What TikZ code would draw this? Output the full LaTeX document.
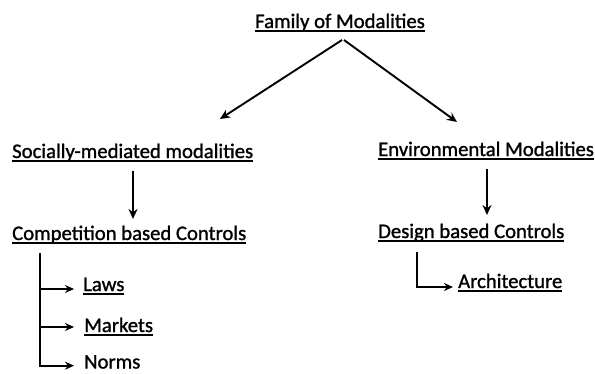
\documentclass[tikz,border=0pt]{standalone}
\usepackage{fontspec}
\setmainfont{Carlito}
\newfontfamily\heavyfont{Carlito}[FakeBold=1.2]
\usetikzlibrary{arrows.meta}
% underline at a fixed depth below the baseline
\newcommand{\ulbl}[1]{\leavevmode\setbox0\hbox{#1}\rlap{\rule[-3.5pt]{\wd0}{1.5pt}}\box0}
\tikzset{
  lbl/.style={anchor=base west, inner sep=0pt, font=\heavyfont\fontsize{20.7}{24}\selectfont},
  conn/.style={line width=1.9pt, -{Stealth[length=10pt,width=9pt]}},
  branch/.style={line width=1.8pt, -{Stealth[length=9pt,width=8pt]}}
}
\begin{document}
\begin{tikzpicture}[x=1pt,y=-1pt]
\useasboundingbox (0,0) rectangle (595,373);
% labels
\node[lbl] (fam) at (255,28) {\ulbl{Family of Modalities}};
\node[lbl] (soc) at (12,158) {\ulbl{Socially-mediated modalities}};
\node[lbl] (env) at (378,156) {\ulbl{Environmental Modalities}};
\node[lbl] (comp) at (12,240) {\ulbl{Competition based Controls}};
\node[lbl] (des) at (378,238) {\ulbl{Design based Controls}};
\node[lbl] (laws) at (83,291) {\ulbl{Laws}};
\node[lbl] (mkt) at (84,332) {\ulbl{Markets}};
\node[lbl] (nrm) at (84,368.5) {Norms};
\node[lbl] (arch) at (458,288) {\ulbl{Architecture}};
% connector end points
\coordinate (famL) at (342,40);
\coordinate (famR) at (344,40);
\coordinate (socT) at (220,119);
\coordinate (envT) at (457,122);
\coordinate (socB) at (133,171);
\coordinate (compT) at (133,219);
\coordinate (envB) at (487,169);
\coordinate (desT) at (487,215);
\coordinate (compB) at (40,253);
\coordinate (desB) at (417,252);
% connectors
\draw[conn] (famL) -- (socT);
\draw[conn] (famR) -- (envT);
\draw[conn] (socB) -- (compT);
\draw[conn] (envB) -- (desT);
\draw[line width=1.8pt] (compB) -- (40,366.6);
\draw[branch] (40,289) -- (74,289);
\draw[branch] (40,327) -- (74,327);
\draw[branch] (39.1,365.7) -- (74,365.7);
\draw[branch] (desB) |- (453,287);
\end{tikzpicture}
\end{document}
